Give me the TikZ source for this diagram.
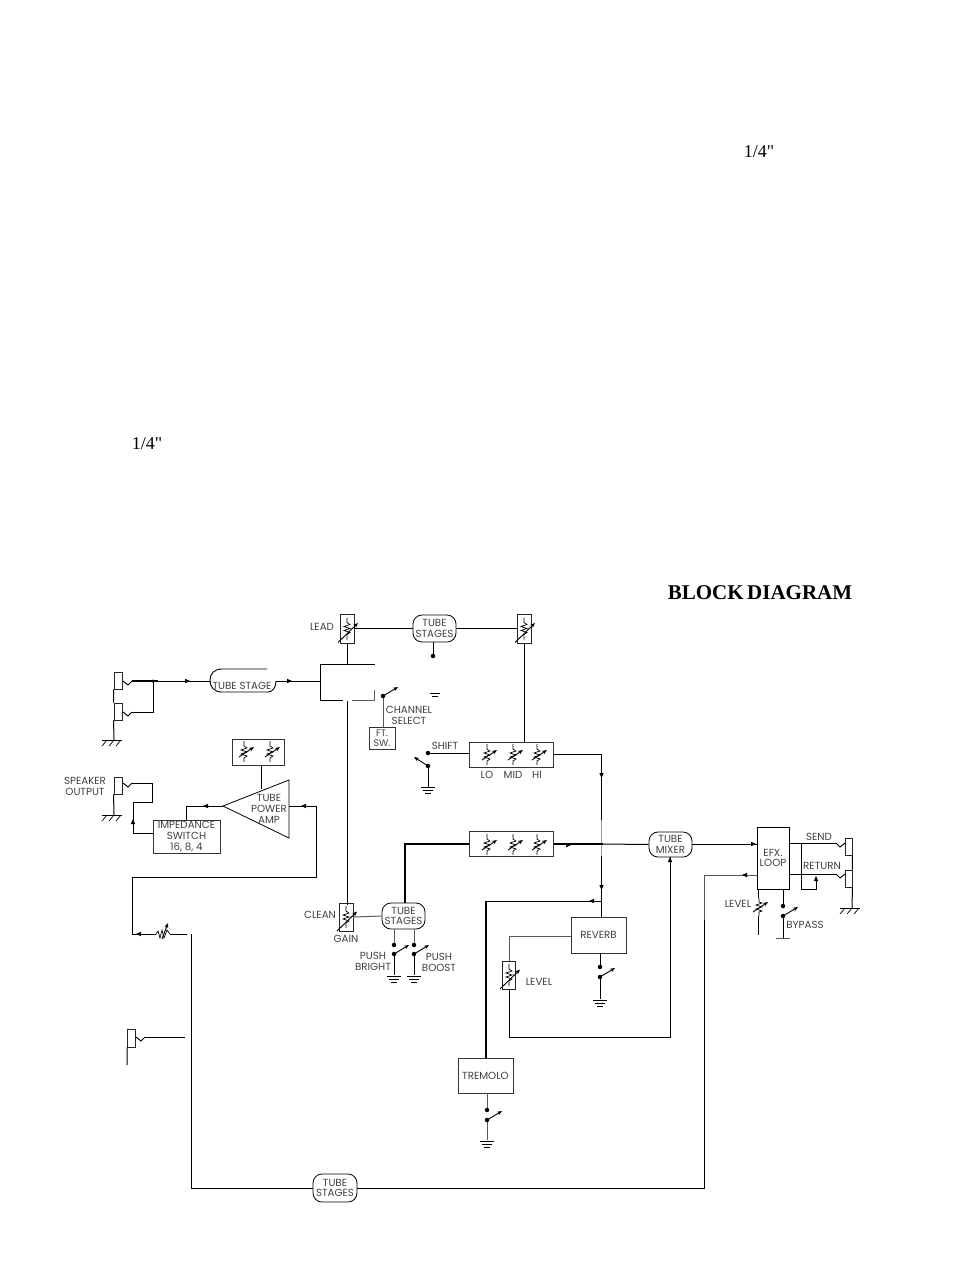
\documentclass[tikz,border=0pt]{standalone}
\usepackage{fontspec}
\setmainfont{Liberation Serif}
\newfontfamily\plainserif{Liberation Serif}
\newfontfamily\diagfont{Poppins}
\usetikzlibrary{arrows.meta,calc}
\definecolor{lab}{gray}{0.25}
\tikzset{
  wire/.style={line width=1pt,black},
  heavy/.style={line width=1.5pt,black},
  grayw/.style={line width=1pt,black!65},
  box/.style={draw=black!80,line width=1pt,inner sep=0pt,align=center,font=\diagfont\fontsize{10.3}{10.8}\selectfont,text=lab},
  pill/.style={box,rounded corners=9pt,draw=black,line width=0.8pt},
  potbox/.style={draw=black!85,line width=0.9pt,inner sep=0pt,minimum width=14,minimum height=29},
  jackbox/.style={draw=black!85,line width=0.9pt,inner sep=0pt,minimum width=8,minimum height=17},
  lbl/.style={inner sep=0pt,align=center,font=\diagfont\fontsize{10.3}{10.8}\selectfont,text=lab},
  notelbl/.style={inner sep=0pt,font=\plainserif\fontsize{18}{20}\selectfont,text=black},
  dot/.style={circle,fill=black,inner sep=0pt,minimum size=4.5},
  armtip/.style={line width=0.9pt,-{Stealth[length=5pt,width=4pt]}},
  potsym/.pic={
    \draw[line width=0.7pt] (0,-11)--(0,-6)--(3,-4)--(-3,-2)--(3,0)--(-3,2)--(3,4)--(0,6)--(0,11);
    \draw[armtip] (-9,14)--(11,-5.5);},
  potsmall/.pic={
    \draw[line width=0.7pt] (0,-11)--(0,-6)--(3,-4)--(-3,-2)--(3,0)--(-3,2)--(3,4)--(0,6)--(0,10);
    \draw[armtip] (-5,5)--(10,-5);},
  potshort/.pic={
    \draw[line width=0.7pt] (0,-9)--(0,-5)--(3,-4)--(-3,-2)--(3,0)--(-3,2)--(3,4)--(0,5)--(0,9);
    \draw[armtip] (-6,5)--(9,-5);},
  gndhatch/.pic={
    \draw[wire] (-12,0)--(8,0);
    \draw[line width=0.7pt] (-7,0)--(-12,6) (0,0)--(-5,6) (7,0)--(2,6);},
  gndbars/.pic={
    \draw[line width=0.8pt] (-7,0)--(7,0) (-5,3)--(5,3);
    \draw[line width=1pt] (-3,6)--(3,6);},
  jackz/.pic={
    \draw[wire] (0,0)--(5,4)--(9,0);},
  swarm/.pic={
    \draw[armtip] (0,0)--(15,-9);},
  tip/.pic={\fill[black] (3,0)--(-2,-2.2)--(-2,2.2)--cycle;}
}
\begin{document}
\begin{tikzpicture}[x=1pt,y=-1pt]
\useasboundingbox (0,0) rectangle (954,1272);

% plain text
\node[notelbl] (note1) at (759,152) {1/4"};
\node[notelbl] (note2) at (147,444) {1/4"};
\node[inner sep=0pt,font=\bfseries\fontsize{21}{23}\selectfont] (title) at (760,593) {BLOCK\,DIAGRAM};

% boxes and pills
\node[potbox] (leadpot) at (347,628.5) {};
\node[potbox] (toppot) at (524,628.5) {};
\node[pill,minimum width=43,minimum height=27] (tubetop) at (434.5,628.5) {TUBE\\STAGES};
\node[box,minimum width=26,minimum height=22,font=\diagfont\fontsize{9.5}{10}\selectfont] (ftsw) at (382,738) {FT.\\SW.};
\node[box,minimum width=84,minimum height=25] (eqtop) at (511,754.5) {};
\node[box,minimum width=84,minimum height=25] (eqlow) at (511,844) {};
\node[box,minimum width=52,minimum height=26] (ampctl) at (258,752) {};
\node[box,minimum width=67,minimum height=33] (imp) at (186.5,836.5) {IMPEDANCE\\SWITCH\\16, 8, 4};
\node[pill,minimum width=43,minimum height=25] (mixer) at (670.5,844.5) {TUBE\\MIXER};
\node[box,draw=black,minimum width=32,minimum height=62] (efx) at (773,858) {EFX.\\LOOP};
\node[pill,minimum width=43,minimum height=26] (tubeclean) at (403.5,916) {TUBE\\STAGES};
\node[potbox,minimum height=28] (cleanpot) at (346,917) {};
\node[box,minimum width=55,minimum height=36] (reverb) at (598.5,935) {REVERB};
\node[potbox,minimum width=13,minimum height=28] (levelpot) at (509,975) {};
\node[box,minimum width=55,minimum height=35] (trem) at (485.5,1075.5) {TREMOLO};
\node[pill,minimum width=44,minimum height=28] (tubebot) at (335,1188) {TUBE\\STAGES};

% jacks
\node[jackbox] (inj1) at (118,680.5) {};
\node[jackbox] (inj2) at (118,711.5) {};
\node[jackbox] (spkj) at (118,785.5) {};
\node[jackbox,minimum height=18] (botj) at (131.5,1038) {};
\node[jackbox,minimum width=7] (sendj) at (848.5,846.5) {};
\node[jackbox,minimum width=7] (retj) at (848.5,878.5) {};

% tube stage partial outline
\coordinate (tsin) at (210,681);
\coordinate (tsout) at (276,681);
\draw[line width=0.9pt] (267,669) -- (222,669) .. controls (214,669) and (210,674) .. (210,680) .. controls (210,687) and (214,692) .. (222,692) -- (268,692) .. controls (273,692) and (276,687) .. (tsout);
\node[lbl] (tslabel) at (242,686) {TUBE STAGE};

% amp triangle
\coordinate (amptip) at (223,806);
\coordinate (amptop) at (289,780);
\coordinate (ampbot) at (289,838);
\coordinate (ampin) at (289,806);
\draw[line width=0.8pt] (amptip) -- (amptop) -- (ampbot) -- cycle;
\node[lbl,font=\diagfont\fontsize{10.3}{11.3}\selectfont] (amplabel) at (269,809) {TUBE\\POWER\\AMP};

% labels
\node[lbl] (leadl) at (322,627) {LEAD};
\node[lbl] (chan) at (409,715) {CHANNEL\\SELECT};
\node[lbl] (shiftl) at (445,746) {SHIFT};
\node[lbl] (lol) at (487,775) {LO};
\node[lbl] (midl) at (513,775) {MID};
\node[lbl] (hil) at (537,775) {HI};
\node[lbl] (spk) at (85,786) {SPEAKER\\OUTPUT};
\node[lbl] (cleanl) at (320,915) {CLEAN};
\node[lbl] (gainl) at (346,939) {GAIN};
\node[lbl] (brightl) at (373,961.5) {PUSH\\BRIGHT};
\node[lbl] (boostl) at (439,962.5) {PUSH\\BOOST};
\node[lbl] (levell) at (539,982) {LEVEL};
\node[lbl] (sendl) at (819,837) {SEND};
\node[lbl] (retl) at (822,866) {RETURN};
\node[lbl] (lvl2) at (738,904) {LEVEL};
\node[lbl] (bypl) at (805,925) {BYPASS};

% pot symbols
\path (347,628.5) pic {potsym} (524,628.5) pic {potsym} (346,917) pic {potsym} (509,975) pic {potsym};
\path (487,755) pic {potsmall} (513,755) pic {potsmall} (537,755) pic {potsmall};
\path (487,845) pic {potsmall} (513,845) pic {potsmall} (537,845) pic {potsmall};
\path (244,752) pic {potsmall} (270,752) pic {potsmall};
\path (759,907) pic {potshort};

% junction points
\coordinate (j1) at (153,681);
\coordinate (j2) at (153,712);
\coordinate (swL) at (320,681);
\coordinate (swT) at (320,664);
\coordinate (swTm) at (347,664);
\coordinate (swTr) at (375,664);
\coordinate (swB) at (320,700);
\coordinate (swB1) at (343,700);
\coordinate (swB2) at (352,700);
\coordinate (swB3) at (374,700);
\coordinate (swB4) at (374,690);
\coordinate (cleanTop) at (347,701);
\coordinate (tt) at (433,656);
\coordinate (chsw) at (383,696);
\coordinate (shift1) at (428,753);
\coordinate (shift2) at (428,766);
\coordinate (shiftg) at (428,787);
\coordinate (eqr) at (601.5,754);
\coordinate (tap) at (601.5,901);
\coordinate (tremT) at (486,901);
\coordinate (ret1) at (704,875);
\coordinate (ret2) at (704,1188);
\coordinate (bot1) at (191,1188);
\coordinate (bot2) at (191,934);
\coordinate (volR) at (187,934);
\coordinate (volL) at (132,934);
\coordinate (fbT) at (132,877);
\coordinate (fbR) at (316,877);
\coordinate (fbU) at (316,806);
\coordinate (impU) at (186,806);
\coordinate (spk1) at (133,833);
\coordinate (spk2) at (133,802);
\coordinate (spk3) at (152,802);
\coordinate (spk4) at (152,783);
\coordinate (spk5) at (132,783);
\coordinate (botc) at (185,1037);
\coordinate (lvlB) at (509,1037);
\coordinate (mixB) at (670,1037);
\coordinate (revL) at (509,936);

% input
\draw[heavy] (132,681) -- (158,681);
\draw[wire] (158,681) -- (tsin);
\draw[wire] (tsout) -- (swL);
\draw[wire] (132,712) -- (j2) -- (j1);
\path (123,681) pic {jackz} (123,712) pic {jackz};
\node[dot,minimum size=3.5] (jd) at (j1) {};
\draw[wire] (inj1.south west) -- (inj2.north west) (inj2.south west) -- (114,740);
\path (114,740) pic {gndhatch};

% switching block
\draw[wire] (swTr) -- (swT) -- (swB) -- (swB1);
\draw[grayw] (swB2) -- (swB3) -- (swB4);
\draw[wire] (leadpot.south -| swTm) -- (swTm);
\draw[wire] (cleanTop) -- (cleanTop |- 0,905);
\draw[wire] (leadpot.east) -- (tubetop.west);
\draw[wire] (tubetop.east) -- (toppot.west);
\draw[wire] (tubetop.south -| tt) -- (tt);
\node[dot] (ttd) at (tt) {};
\draw[wire] (toppot.south) -- (toppot.south |- eqtop.north);
\draw[line width=0.8pt] (430,693) -- (440,693) (432,696) -- (438,696);

% channel select
\draw[grayw] (chsw) -- (ftsw.north -| chsw);
\node[dot] (chd) at (chsw) {};
\path (chsw) pic {swarm};

% shift
\draw[wire] (shift1) -- (eqtop.west |- shift1);
\draw[wire] (shift2) -- (shiftg);
\node[dot] (sd1) at (shift1) {};
\node[dot] (sd2) at (shift2) {};
\draw[armtip] (shift2) -- (414,757);
\path (shiftg) pic {gndbars};

% tone stacks to output
\draw[wire] (eqtop.east |- eqr) -- (eqr) -- (601.5,820);
\draw[line width=0.5pt,black!40] (601.5,820) -- (601.5,856);
\draw[wire] (601.5,856) -- (tap |- reverb.north);
\draw[wire] (tap) -- (tremT);
\draw[heavy] (tremT) -- (trem.north -| tremT);
\draw[heavy] (eqlow.west) -- (405,844) -- (tubeclean.north -| 405,0);
\draw[heavy] (eqlow.east) -- (603,844);
\draw[wire] (603,844) -- (mixer.west);
\draw[line width=0.7pt] (mixer.east) -- (efx.west |- mixer.east);
\draw[grayw] (cleanpot.east) -- (tubeclean.west);

% push switches
\foreach \nm/\xx in {a/394,b/414}{
  \draw[grayw] (\xx,929) -- (\xx,945);
  \draw[wire] (\xx,954) -- (\xx,975);
  \node[dot] (up\nm) at (\xx,945) {};
  \node[dot] (dn\nm) at (\xx,954) {};
  \path (\xx,954) pic {swarm} (\xx,976) pic {gndbars};
}

% reverb
\draw[grayw] (reverb.west |- revL) -- (revL) -- (levelpot.north);
\draw[wire] (levelpot.south) -- (lvlB) -- (mixB) -- (mixer.south -| mixB);
\draw[wire] (600,953) -- (600,967);
\draw[wire] (600,977) -- (600,999);
\node[dot] (rd1) at (600,967) {};
\node[dot] (rd2) at (600,977) {};
\path (600,977) pic {swarm} (600,1000) pic {gndbars};

% tremolo
\draw[grayw] (487,1093) -- (487,1110);
\draw[grayw] (487,1120) -- (487,1140);
\node[dot] (td1) at (487,1110) {};
\node[dot] (td2) at (487,1120) {};
\path (487,1120) pic {swarm} (487,1141) pic {gndbars};

% return path
\draw[grayw] (efx.west |- ret1) -- (ret1) -- (704,920);
\draw[wire] (704,920) -- (ret2) -- (tubebot.east);
\draw[wire] (tubebot.west) -- (bot1) -- (bot2);
\draw[wire] (volR) -- (170,934) (156,934) -- (volL) -- (fbT) -- (fbR) -- (fbU) -- (ampin);
\draw[line width=0.7pt] (156,934) -- (158,931) -- (160,938) -- (162,930) -- (164,938) -- (167,930) -- (170,934);
\draw[armtip] (162,939) -- (168,923);

% power amp
\draw[wire] (ampctl.south -| 261.5,0) -- (261.5,789);
\draw[wire] (amptip) -- (impU) -- (imp.north -| impU);
\draw[wire] (imp.west |- spk1) -- (spk1) -- (spk2) -- (spk3) -- (spk4) -- (spk5);
\path (123,783) pic {jackz};
\draw[wire] (spkj.south west) -- (114,815);
\path (114,815) pic {gndhatch};

% bottom jack
\draw[wire] (botj.south west) -- (127,1065);
\draw[wire] (botc) -- (145,1037);
\path (136,1037) pic {jackz};

% efx right side
\draw[wire] (efx.east |- 0,843) -- (836,843);
\draw[wire] (efx.east |- 0,874) -- (836,874);
\path (845,843) pic[xscale=-1] {jackz} (845,874) pic[xscale=-1] {jackz};
\draw[wire] (801,843) -- (801,889) -- (816,889) -- (816,878);
\draw[wire] (sendj.south east) -- (retj.north east) (retj.south east) -- (852,908);
\path (852,908) pic {gndhatch};
\draw[wire] (758,889) -- (758,898) (758,916) -- (758,935);
\draw[wire] (783,889) -- (783,906);
\draw[wire] (783,916) -- (783,938);
\node[dot] (bd1) at (783,906) {};
\node[dot] (bd2) at (783,916) {};
\path (783,916) pic {swarm};
\draw[grayw] (776,938) -- (790,938);

% flow marks
\path (187,681) pic {tip} (289,681) pic {tip} (568,845) pic {tip} (753,844) pic {tip};
\path (601.5,775) pic[rotate=-90] {tip} (601.5,887) pic[rotate=-90] {tip};
\path (592,901) pic[rotate=180] {tip} (745,875) pic[rotate=180] {tip};
\path (304,806) pic[rotate=180] {tip} (206,806) pic[rotate=180] {tip} (139,934) pic[rotate=180] {tip};
\path (133,822) pic[rotate=90] {tip} (670,860) pic[rotate=90] {tip} (816,879) pic[rotate=90] {tip};
\end{tikzpicture}
\end{document}
